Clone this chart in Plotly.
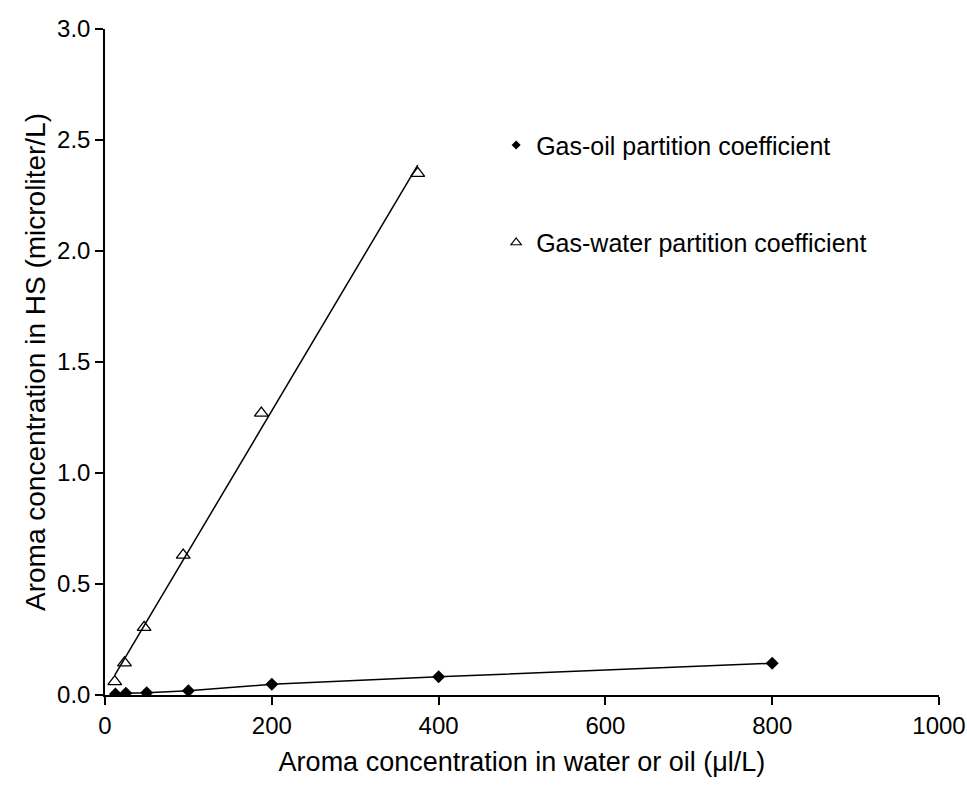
import numpy as np
import plotly.graph_objects as go

# Aroma concentration in oil / water (µl/L) and in headspace (µl/L)
oil_conc = [12.5, 25, 50, 100, 200, 400, 800]
oil_hs = [0.0045, 0.008, 0.010, 0.019, 0.048, 0.082, 0.143]

water_conc = [11.7, 23.4, 46.9, 93.75, 187.5, 375]
water_hs = [0.06, 0.145, 0.305, 0.63, 1.27, 2.35]

x_ticks = [0, 200, 400, 600, 800, 1000]
y_ticks = [0.0, 0.5, 1.0, 1.5, 2.0, 2.5, 3.0]

oil_name = "Gas-oil partition coefficient"
water_name = "Gas-water partition coefficient"

FONT = "Liberation Sans, Arial, sans-serif"

# Linear trend line for the gas-water series
slope, intercept = np.polyfit(water_conc, water_hs, 1)
fit_x = np.array([min(water_conc), max(water_conc)])
fit_y = intercept + slope * fit_x

fig = go.Figure()

# connecting / trend lines
fig.add_trace(go.Scatter(
    x=fit_x, y=fit_y, mode="lines",
    line=dict(color="black", width=1.5),
    showlegend=False, hoverinfo="skip",
))
fig.add_trace(go.Scatter(
    x=oil_conc, y=oil_hs, mode="lines",
    line=dict(color="black", width=1.5),
    showlegend=False, hoverinfo="skip",
))

# data markers
fig.add_trace(go.Scatter(
    x=oil_conc, y=oil_hs, mode="markers", name=oil_name,
    showlegend=False,
    marker=dict(symbol="diamond", size=10, color="black"),
))
fig.add_trace(go.Scatter(
    x=water_conc, y=water_hs, mode="markers", name=water_name,
    showlegend=False,
    marker=dict(symbol="triangle-up-open", size=12, color="black",
                line=dict(color="black", width=1.3)),
))

# legend entries with small key symbols
fig.add_trace(go.Scatter(
    x=[None], y=[None], mode="markers", name=oil_name, legendgroup="oil",
    marker=dict(symbol="diamond", size=7, color="black"),
))
fig.add_trace(go.Scatter(
    x=[None], y=[None], mode="markers", name=water_name, legendgroup="water",
    marker=dict(symbol="triangle-up-open", size=9, color="black",
                line=dict(color="black", width=1.2)),
))

axis_common = dict(
    showline=True, linecolor="black", linewidth=1.5,
    ticks="outside", ticklen=8, tickwidth=1.5, tickcolor="black",
    showgrid=False, zeroline=False, automargin=False,
    tickfont=dict(family=FONT, size=24, color="black"),
)

fig.update_xaxes(
    range=[0, 1000], tickvals=x_ticks,
    title=dict(text="Aroma concentration in water or oil (μl/L)",
               font=dict(family=FONT, size=27, color="black"), standoff=15),
    **axis_common,
)
fig.update_yaxes(
    range=[0, 3.0], tickvals=y_ticks, tickformat=".1f",
    title=dict(text="Aroma concentration in HS (microliter/L)",
               font=dict(family=FONT, size=28, color="black"), standoff=3),
    **axis_common,
)

fig.update_layout(
    width=967, height=792,
    margin=dict(l=105, r=28, t=29, b=97),
    paper_bgcolor="white", plot_bgcolor="white",
    font=dict(family=FONT, color="black"),
    legend=dict(
        x=0.469, y=0.86, xanchor="left", yanchor="top",
        font=dict(family=FONT, size=25, color="black"),
        bgcolor="rgba(0,0,0,0)", borderwidth=0,
        tracegroupgap=62, itemwidth=30,
    ),
)

fig.write_html("out.html")
